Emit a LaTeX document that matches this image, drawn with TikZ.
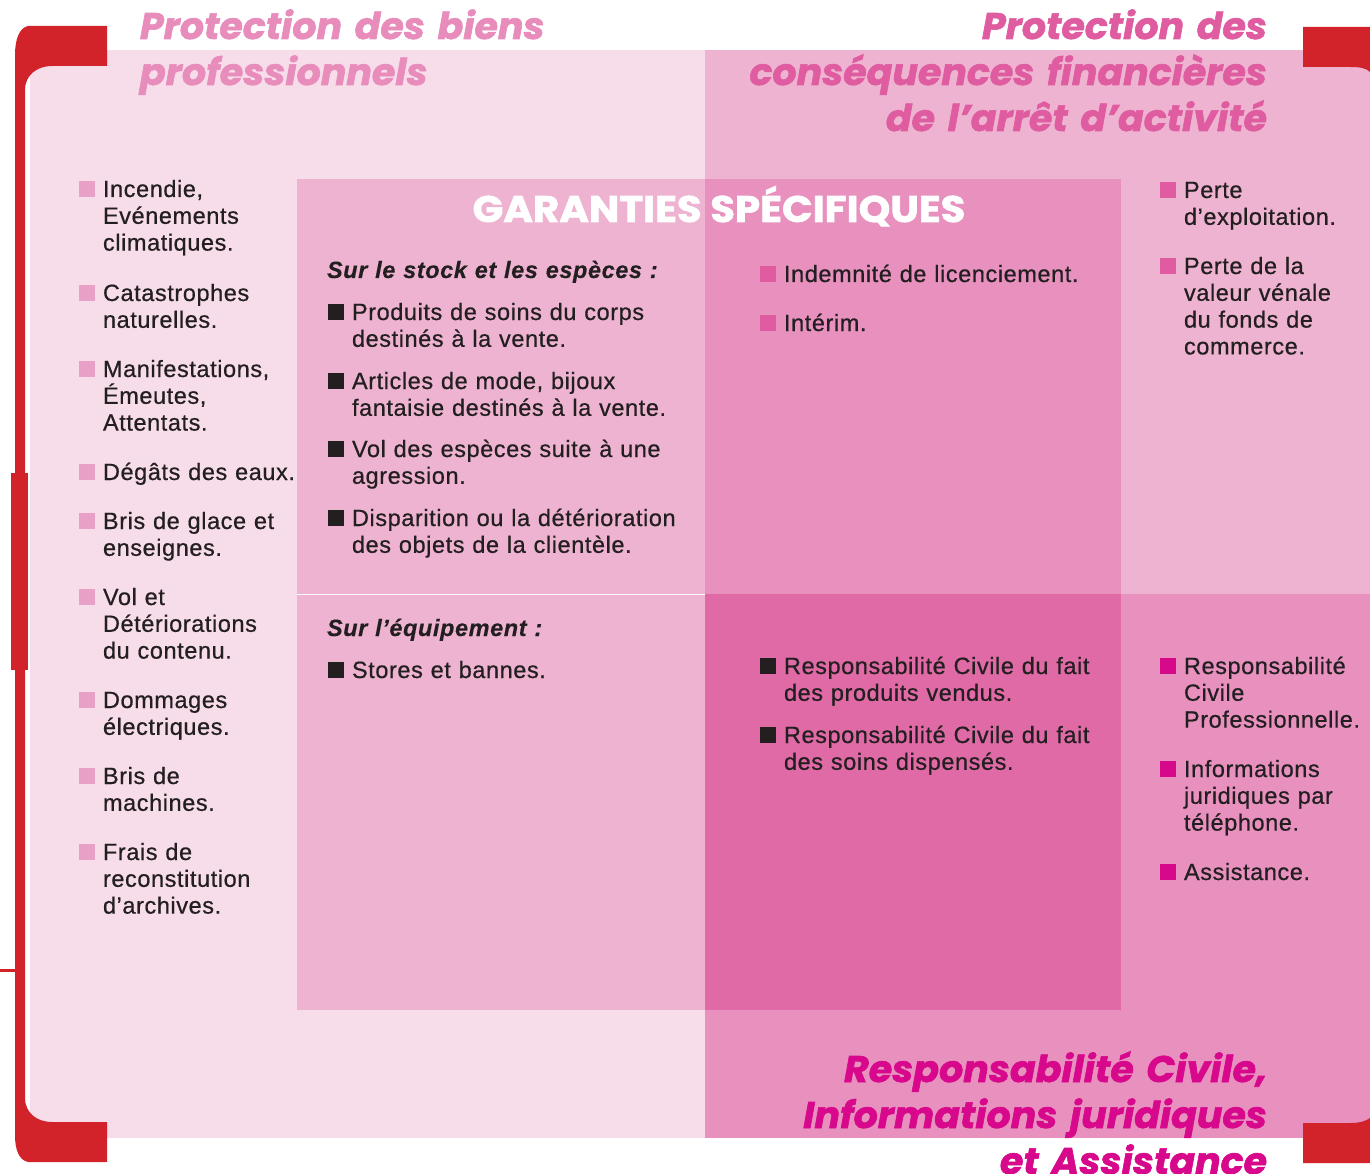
\documentclass[tikz,border=0pt]{standalone}
\usepackage{fontspec}
\setmainfont{Liberation Sans}[LetterSpace=2.5, UprightFeatures={FakeBold=0.6}, BoldItalicFeatures={FakeBold=0.3}]
\newfontfamily\titlefont{Poppins}[BoldItalicFeatures={FakeBold=1.6}, BoldFeatures={FakeBold=1.6}]
\definecolor{pinkA}{HTML}{F7DCE9}
\definecolor{pinkB}{HTML}{EDB3D0}
\definecolor{pinkC}{HTML}{E891BE}
\definecolor{pinkD}{HTML}{E06AA6}
\definecolor{redF}{HTML}{D2232A}
\definecolor{bulA}{HTML}{E9A0C6}
\definecolor{bulB}{HTML}{E05BA0}
\definecolor{bulC}{HTML}{D6098A}
\definecolor{ink}{HTML}{231F20}
\definecolor{titA}{HTML}{E88CBB}
\definecolor{titB}{HTML}{E05CA0}
\definecolor{titC}{HTML}{D7088B}
\newcommand\bodyfont{\fontsize{23.5}{26.8}\selectfont}
\newcommand\ttlfont{\titlefont\bfseries\itshape\fontsize{37}{46}\selectfont}
\newcommand\bul[2]{\fill[#1] ([xshift=-24pt]#2.base west) rectangle ++(16,-16);}
\tikzset{
  entry/.style={anchor=base west, inner sep=0pt, outer sep=0pt, align=left, text width=420pt, font=\bodyfont, text=ink},
  ttl/.style={inner sep=0pt, outer sep=0pt, text width=700pt, font=\ttlfont, xscale=1.025, transform shape}
}
\begin{document}
\begin{tikzpicture}[x=1pt,y=-1pt]
\useasboundingbox (0,0) rectangle (1370,1174);
\fill[white] (0,0) rectangle (1370,1174);
% panels
\fill[pinkA] (30,50) rectangle (705,1138);
\fill[pinkB] (705,50) rectangle (1370,594);
\fill[pinkC] (705,594) rectangle (1370,1138);
% centre block
\fill[pinkB] (297,179) rectangle (705,1010);
\fill[pinkC] (705,179) rectangle (1121,594);
\fill[pinkD] (705,594) rectangle (1121,1010);
\draw[white, line width=1pt] (297,594) -- (705,594);
% red frame
\fill[redF] (107,26) -- (107,66) -- (52,66) .. controls (36,66) and (25,76) .. (25,90)
  -- (25,1098) .. controls (25,1112) and (36,1122) .. (52,1122) -- (107,1122) -- (107,1162)
  -- (28,1162) .. controls (19,1160) and (15,1150) .. (15,1135) -- (15,55)
  .. controls (15,40) and (19,28) .. (28,26) -- cycle;
\fill[redF] (11,473) rectangle (28,670);
\fill[redF] (0,969) rectangle (25,972);
\fill[redF] (1303,27) -- (1370,27) -- (1370,72) .. controls (1366,68) and (1360,67) .. (1350,67) -- (1303,67) -- cycle;
\fill[redF] (1303,1123) -- (1350,1123) .. controls (1360,1123) and (1366,1121) .. (1370,1118) -- (1370,1163) -- (1303,1163) -- cycle;
% titles
\node[ttl, anchor=base west, align=left, text=titA] (t1) at (140,39) {Protection des biens\\professionnels};
\node[ttl, anchor=base east, align=right, text=titB] (t2) at (1267,39) {Protection des\\conséquences financières\\de l’arrêt d’activité};
\node[ttl, anchor=base east, align=right, text=titC] (t3) at (1267,1082) {Responsabilité Civile,\\Informations juridiques\\et Assistance};
\node[inner sep=0pt, anchor=base, xscale=1.09, transform shape, font=\titlefont\bfseries\fontsize{37}{46}\selectfont, text=white] (gs) at (719,222) {GARANTIES SPÉCIFIQUES};
% left column
\node[entry] (l1) at (103,197) {Incendie,\\Evénements\\climatiques.}; \bul{bulA}{l1}
\node[entry] (l2) at (103,301) {Catastrophes\\naturelles.}; \bul{bulA}{l2}
\node[entry] (l3) at (103,377) {Manifestations,\\Émeutes,\\Attentats.}; \bul{bulA}{l3}
\node[entry] (l4) at (103,480) {Dégâts des eaux.}; \bul{bulA}{l4}
\node[entry] (l5) at (103,529) {Bris de glace et\\enseignes.}; \bul{bulA}{l5}
\node[entry] (l6) at (103,605) {Vol et\\Détériorations\\du contenu.}; \bul{bulA}{l6}
\node[entry] (l7) at (103,708) {Dommages\\électriques.}; \bul{bulA}{l7}
\node[entry] (l8) at (103,784) {Bris de\\machines.}; \bul{bulA}{l8}
\node[entry] (l9) at (103,860) {Frais de\\reconstitution\\d’archives.}; \bul{bulA}{l9}
% centre left
\node[entry, font=\bodyfont\bfseries\itshape] (h1) at (327,278) {Sur le stock et les espèces :};
\node[entry] (c1) at (352,320) {Produits de soins du corps\\destinés à la vente.}; \bul{ink}{c1}
\node[entry] (c2) at (352,389) {Articles de mode, bijoux\\fantaisie destinés à la vente.}; \bul{ink}{c2}
\node[entry] (c3) at (352,457) {Vol des espèces suite à une\\agression.}; \bul{ink}{c3}
\node[entry] (c4) at (352,526) {Disparition ou la détérioration\\des objets de la clientèle.}; \bul{ink}{c4}
\node[entry, font=\bodyfont\bfseries\itshape] (h2) at (327,636) {Sur l’équipement :};
\node[entry] (c5) at (352,678) {Stores et bannes.}; \bul{ink}{c5}
% centre right
\node[entry] (m1) at (784,282) {Indemnité de licenciement.}; \bul{bulB}{m1}
\node[entry] (m2) at (784,331) {Intérim.}; \bul{bulB}{m2}
\node[entry] (m3) at (784,674) {Responsabilité Civile du fait\\des produits vendus.}; \bul{ink}{m3}
\node[entry] (m4) at (784,743) {Responsabilité Civile du fait\\des soins dispensés.}; \bul{ink}{m4}
% right column
\node[entry] (r1) at (1184,198) {Perte\\d’exploitation.}; \bul{bulB}{r1}
\node[entry] (r2) at (1184,274) {Perte de la\\valeur vénale\\du fonds de\\commerce.}; \bul{bulB}{r2}
\node[entry] (r3) at (1184,674) {Responsabilité\\Civile\\Professionnelle.}; \bul{bulC}{r3}
\node[entry] (r4) at (1184,777) {Informations\\juridiques par\\téléphone.}; \bul{bulC}{r4}
\node[entry] (r5) at (1184,880) {Assistance.}; \bul{bulC}{r5}
\end{tikzpicture}
\end{document}
